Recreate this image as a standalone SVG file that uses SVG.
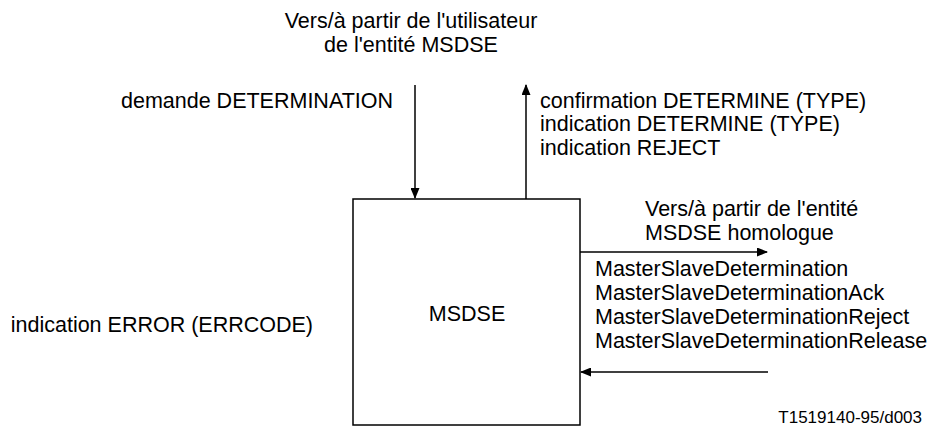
<svg xmlns="http://www.w3.org/2000/svg" width="930" height="430" viewBox="0 0 930 430">
<defs>
<style>
text{font-family:"Liberation Sans",Arial,sans-serif;font-size:21.5px;fill:#000}
.ln{stroke:#000;stroke-width:1.5;fill:none}
.small{font-size:17px}
</style>
<marker id="ah" markerWidth="11" markerHeight="9" refX="10" refY="4.5" orient="auto" markerUnits="userSpaceOnUse">
<path d="M0,0 L11,4.5 L0,9 Z" fill="#000"/>
</marker>
</defs>
<rect width="930" height="430" fill="#fff"/>
<g id="msdse">
<rect x="353" y="199" width="227" height="226" class="ln"/>
<text x="467" y="321" text-anchor="middle">MSDSE</text>
</g>
<g id="connectors">
<line x1="415" y1="85" x2="415" y2="198" class="ln" marker-end="url(#ah)"/>
<line x1="526" y1="199" x2="526" y2="85" class="ln" marker-end="url(#ah)"/>
<line x1="580" y1="252" x2="767" y2="252" class="ln" marker-end="url(#ah)"/>
<line x1="768" y1="372" x2="581" y2="372" class="ln" marker-end="url(#ah)"/>
</g>
<g id="labels">
<text x="411" y="28" text-anchor="middle">Vers/à partir de l'utilisateur</text>
<text x="411" y="52" text-anchor="middle">de l'entité MSDSE</text>
<text x="393" y="108" text-anchor="end">demande DETERMINATION</text>
<text x="540" y="108">confirmation DETERMINE (TYPE)</text>
<text x="540" y="131">indication DETERMINE (TYPE)</text>
<text x="540" y="155">indication REJECT</text>
<text x="645" y="216">Vers/à partir de l'entité</text>
<text x="645" y="240">MSDSE homologue</text>
<text x="595" y="276">MasterSlaveDetermination</text>
<text x="595" y="300">MasterSlaveDeterminationAck</text>
<text x="595" y="324">MasterSlaveDeterminationReject</text>
<text x="595" y="348">MasterSlaveDeterminationRelease</text>
<text x="313" y="332" text-anchor="end">indication ERROR (ERRCODE)</text>
<text x="922" y="423" class="small" text-anchor="end">T1519140-95/d003</text>
</g>
</svg>
